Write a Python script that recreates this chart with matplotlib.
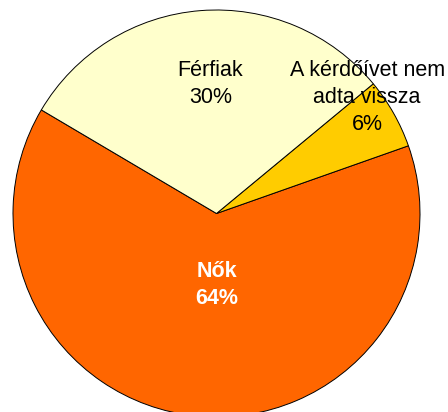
import matplotlib
matplotlib.use("Agg")
import matplotlib.pyplot as plt

# slice data, counter-clockwise from the Férfiak/Nők boundary
labels = ["Nők", "A kérdőívet nem\nadta vissza", "Férfiak"]
values = [63.9, 5.6, 30.5]
colors = ["#FF6600", "#FFCC00", "#FFFFCC"]

# label placement in data units (pie radius = 1)
label_pos = [(0.0, -0.35), (0.74, 0.57), (-0.03, 0.635)]
label_color = ["white", "black", "black"]
label_weight = ["bold", "normal", "normal"]

plt.rcParams["font.family"] = ["Liberation Sans", "DejaVu Sans"]

fig = plt.figure(figsize=(4.48, 4.12), dpi=100)
ax = fig.add_axes([0, 0, 1, 1])

ax.pie(values, colors=colors, startangle=149.4, counterclock=True,
       wedgeprops=dict(edgecolor="black", linewidth=0.7))

total = sum(values)
for name, v, (x, y), c, w in zip(labels, values, label_pos, label_color, label_weight):
    ax.text(x, y, f"{name}\n{v / total * 100:.0f}%", ha="center", va="center",
            fontsize=15.5, color=c, fontweight=w, linespacing=1.35)

r = 203.5
ax.set_aspect("auto")
ax.set_xlim(-216.5 / r, (448 - 216.5) / r)
ax.set_ylim(-(412 - 213.5) / r, 213.5 / r)
ax.axis("off")

fig.savefig("out.png", dpi=100)
